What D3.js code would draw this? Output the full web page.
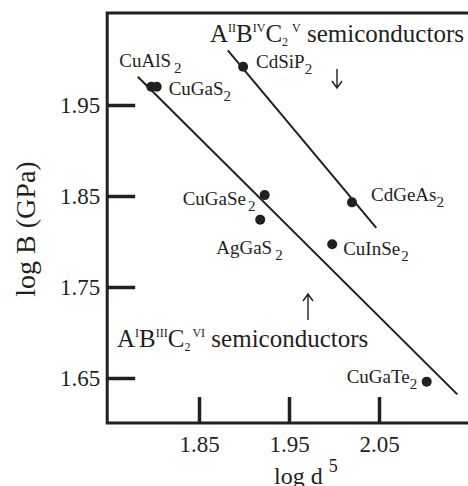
<!DOCTYPE html>
<html>
<head>
<meta charset="utf-8">
<script src="https://cdn.jsdelivr.net/npm/d3@7"></script>
<style>
  body { margin: 0; background: #fff; }
  text { font-family: "Liberation Serif", "Times New Roman", serif; fill: #231f20; }
</style>
</head>
<body>
<div id="chart"></div>
<script>
// values
const compounds = ["CuAlS", "CuGaS", "CdSiP", "CuGaSe", "AgGaS", "CdGeAs", "CuInSe", "CuGaTe"];
const logD5 = [1.797, 1.803, 1.899, 1.923, 1.918, 2.020, 1.998, 2.103];
const logB = [1.970, 1.970, 1.992, 1.851, 1.824, 1.843, 1.797, 1.646];

// two fitted lines (end points)
const fitIx = [1.782, 2.137];
const fitIy = [1.981, 1.632];
const fitIIx = [1.882, 2.047];
const fitIIy = [2.010, 1.815];

const xTicks = [1.85, 1.95, 2.05];
const yTicks = [1.65, 1.75, 1.85, 1.95];
const xDomain = [1.748, 2.149];
const yDomain = [1.6005, 2.051];

const W = 468, H = 486;
const ink = "#231f20";

const svg = d3.select("#chart")
    .append("svg")
    .attr("width", W)
    .attr("height", H);

const xScale = d3.scaleLinear().domain([1.85, 2.05]).range([199, 379]);
const yScale = d3.scaleLinear().domain([1.65, 1.95]).range([378, 105]);

const x0 = xScale(xDomain[0]), x1 = xScale(xDomain[1]);
const y0 = yScale(yDomain[0]), y1 = yScale(yDomain[1]);

// frame: left, top, bottom
svg.append("path")
    .attr("d", `M${x1},${y1}H${x0}V${y0}H${x1}`)
    .attr("fill", "none")
    .attr("stroke", ink)
    .attr("stroke-width", 3);

const yAxis = d3.axisLeft(yScale)
    .tickValues(yTicks)
    .tickSizeInner(-28)
    .tickSizeOuter(0)
    .tickPadding(7)
    .tickFormat(d3.format(".2f"));
const gy = svg.append("g")
    .attr("transform", `translate(${x0},0)`)
    .call(yAxis);
gy.select(".domain").remove();
gy.selectAll(".tick line").attr("stroke", ink).attr("stroke-width", 3.5);
gy.selectAll(".tick text").attr("font-size", 23).attr("font-family", "Liberation Serif").attr("fill", ink);

const xAxis = d3.axisBottom(xScale)
    .tickValues(xTicks)
    .tickSizeInner(-26)
    .tickSizeOuter(0)
    .tickPadding(13)
    .tickFormat(d3.format(".2f"));
const gx = svg.append("g")
    .attr("transform", `translate(0,${y0})`)
    .call(xAxis);
gx.select(".domain").remove();
gx.selectAll(".tick line").attr("stroke", ink).attr("stroke-width", 3.5);
gx.selectAll(".tick text").attr("font-size", 23).attr("font-family", "Liberation Serif").attr("fill", ink);

// fitted lines
const line = d3.line().x(d => xScale(d[0])).y(d => yScale(d[1]));
svg.append("path")
    .attr("d", line(d3.zip(fitIx, fitIy)))
    .attr("stroke", ink).attr("stroke-width", 2).attr("fill", "none");
svg.append("path")
    .attr("d", line(d3.zip(fitIIx, fitIIy)))
    .attr("stroke", ink).attr("stroke-width", 2).attr("fill", "none");

// points
svg.selectAll("circle.pt")
    .data(compounds)
    .enter().append("circle")
    .attr("class", "pt")
    .attr("cx", (d, i) => xScale(logD5[i]))
    .attr("cy", (d, i) => yScale(logB[i]))
    .attr("r", 5)
    .attr("fill", ink);

// label offsets from each point (text start, baseline) and subscript gap
const labelPos = {
    CuAlS:  [-32, -20, 3],
    CuGaS:  [12, 8, 0],
    CdSiP:  [13, 1, 0],
    CuGaSe: [-82, 10, 2],
    AgGaS:  [-44, 34, 3],
    CdGeAs: [19, -1, 0],
    CuInSe: [11, 11, 1],
    CuGaTe: [-80, 1, 0]
};

compounds.forEach(function(c, i) {
    const p = labelPos[c];
    const t = svg.append("text")
        .attr("x", xScale(logD5[i]) + p[0])
        .attr("y", yScale(logB[i]) + p[1])
        .attr("font-size", 19);
    t.append("tspan").text(c);
    t.append("tspan").attr("dx", p[2]).attr("dy", 6).attr("font-size", 15).text("2");
});

// group titles
function title(x, y, parts) {
    const t = svg.append("text").attr("x", x).attr("y", y).attr("font-size", 25);
    let shift = 0;
    parts.forEach(function(p) {
        const s = t.append("tspan").text(p.t);
        const target = p.dy || 0;
        if (p.fs) s.attr("font-size", p.fs);
        if (p.dx) s.attr("dx", p.dx);
        s.attr("dy", target - shift);
        shift = target;
    });
}

title(210, 42, [
    {t: "A"}, {t: "II", fs: 12, dy: -10},
    {t: "B"}, {t: "IV", fs: 12, dy: -10},
    {t: "C"}, {t: "2", fs: 12, dy: 4},
    {t: "V", fs: 12, dy: -10, dx: 4},
    {t: " semiconductors"}
]);

title(117, 347, [
    {t: "A"}, {t: "I", fs: 12, dy: -10},
    {t: "B"}, {t: "III", fs: 12, dy: -10},
    {t: "C"}, {t: "2", fs: 12, dy: 4},
    {t: "VI", fs: 12, dy: -10, dx: 2},
    {t: " semiconductors"}
]);

// arrows (thin shaft with open head)
function arrow(x, yTail, yHead) {
    const dir = yHead > yTail ? -1 : 1;
    svg.append("path")
        .attr("d", `M${x},${yTail}V${yHead}M${x - 5},${yHead + dir * 7}L${x},${yHead}L${x + 5},${yHead + dir * 7}`)
        .attr("fill", "none")
        .attr("stroke", ink)
        .attr("stroke-width", 1.4);
}
arrow(337, 69, 88);
arrow(308, 320, 294);

// axis titles
const xt = svg.append("text")
    .attr("x", 274).attr("y", 484)
    .attr("font-size", 24);
xt.append("tspan").text("log d");
xt.append("tspan").attr("dx", 6).attr("dy", -12).attr("font-size", 18).text("5");

svg.append("text")
    .attr("transform", "translate(35,229) rotate(-90)")
    .attr("text-anchor", "middle")
    .attr("font-size", 28)
    .text("log B (GPa)");
</script>
</body>
</html>
